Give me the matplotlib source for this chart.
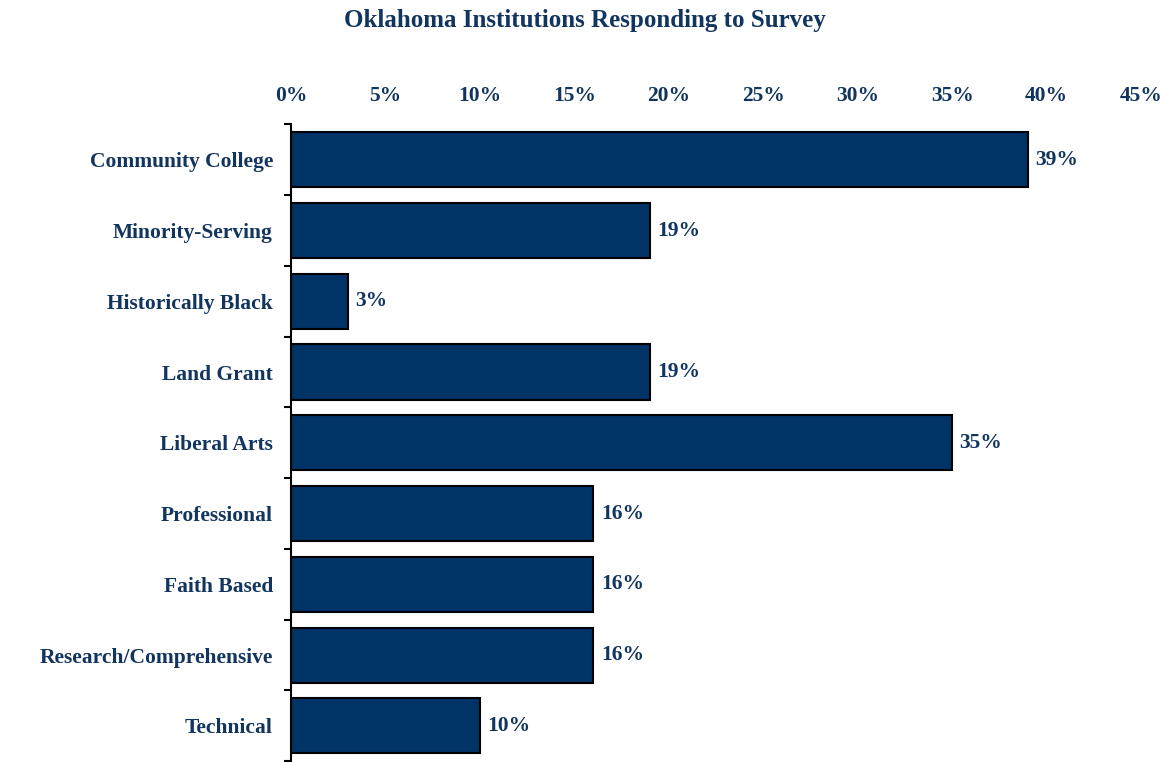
import matplotlib
matplotlib.use("Agg")
import matplotlib.pyplot as plt
import numpy as np
from matplotlib.ticker import FixedLocator

categories = ["Community College", "Minority-Serving", "Historically Black", "Land Grant",
              "Liberal Arts", "Professional", "Faith Based", "Research/Comprehensive", "Technical"]
values = [39, 19, 3, 19, 35, 16, 16, 16, 10]
xticks = [0, 5, 10, 15, 20, 25, 30, 35, 40, 45]
xticklabels = [f"{t}%" for t in xticks]
title = "Oklahoma Institutions Responding to Survey"

navy = "#003366"
txt = "#12355F"
plt.rcParams['font.family'] = ['Liberation Serif', 'DejaVu Serif']

fig = plt.figure(figsize=(11.69, 7.62), dpi=100)
ax = fig.add_axes([291/1169, 0.001, 850/1169, 0.8357])

y = np.arange(len(categories))
ax.barh(y, values, height=0.78, color=navy, edgecolor="black", linewidth=1.5)
ax.set_ylim(len(categories) - 0.5, -0.5)
ax.set_xlim(0, 45)

ax.xaxis.tick_top()
ax.set_xticks(xticks)
ax.set_xticklabels(xticklabels, fontsize=15.5, fontweight="bold", color=txt)
ax.tick_params(axis="x", length=0, pad=13)

ax.set_yticks(y)
ax.set_yticklabels(categories, fontsize=15.5, fontweight="bold", color=txt)
ax.tick_params(axis="y", which="major", length=0, pad=13)
ax.yaxis.set_minor_locator(FixedLocator(np.arange(-0.5, len(categories), 1.0)))
ax.tick_params(axis="y", which="minor", length=5, width=1.5, color="black", direction="out")

for s in ["top", "right", "bottom"]:
    ax.spines[s].set_visible(False)
ax.spines["left"].set_linewidth(1.5)
ax.spines["left"].set_color("black")

for yi, v in zip(y, values):
    ax.text(v + 0.4, yi, f"{v}%", va="center", ha="left", fontsize=15.5,
            fontweight="bold", color=txt)

fig.text(585/1169, 1 - 21/762, title, ha="center", va="center", fontsize=18,
         fontweight="bold", color=txt)

fig.savefig("out.png", dpi=100)
